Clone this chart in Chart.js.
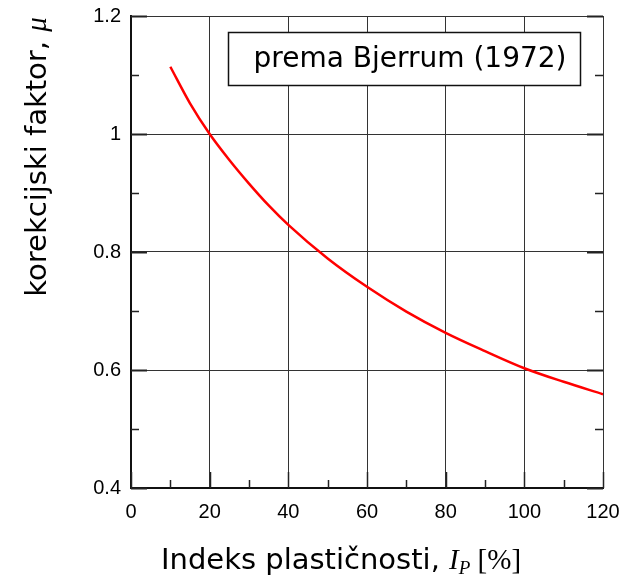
<!DOCTYPE html>
<html>
<head>
<meta charset="utf-8">
<script src="https://cdn.jsdelivr.net/npm/chart.js@4"></script>
<style>
  html, body { margin: 0; padding: 0; background: #fff; }
  #wrap { width: 631px; height: 577px; }
</style>
</head>
<body>
<div id="wrap"><canvas id="chart" width="631" height="577"></canvas></div>
<script>
// plasticity index Ip [%] and correction factor mu (Bjerrum 1972)
const plasticityIndex = [10, 15, 20, 25, 30, 35, 40, 50, 60, 70, 80, 90, 100, 110, 120];
const correctionFactor = [1.114, 1.052, 1.0, 0.956, 0.916, 0.879, 0.846, 0.789, 0.741, 0.699, 0.663, 0.632, 0.603, 0.580, 0.559];

const xTicks = [0, 20, 40, 60, 80, 100, 120];
const xMinor = [10, 30, 50, 70, 90, 110];
const yTicks = [0.4, 0.6, 0.8, 1.0, 1.2];
const yMinor = [0.5, 0.7, 0.9, 1.1];

const legendText = "prema Bjerrum (1972)";

const points = plasticityIndex.map((x, i) => ({ x: x, y: correctionFactor[i] }));

// ticks inside the frame, legend box and the axis titles with italic symbols
const extras = {
    id: "extras",
    afterDatasetsDraw(chart) {
        const ctx = chart.ctx;
        const a = chart.chartArea;
        const xs = chart.scales.x, ys = chart.scales.y;
        ctx.save();
        ctx.strokeStyle = "#222";

        xTicks.forEach(v => {
            const px = Math.round(xs.getPixelForValue(v)) + 0.5;
            ctx.lineWidth = 1.5;
            ctx.beginPath();
            ctx.moveTo(px, a.bottom); ctx.lineTo(px, a.bottom - 16);
            ctx.stroke();
        });
        xMinor.forEach(v => {
            const px = Math.round(xs.getPixelForValue(v)) + 0.5;
            ctx.lineWidth = 1.5;
            ctx.beginPath();
            ctx.moveTo(px, a.bottom); ctx.lineTo(px, a.bottom - 8);
            ctx.stroke();
        });
        yTicks.forEach(v => {
            const py = Math.round(ys.getPixelForValue(v)) + 0.5;
            ctx.lineWidth = 2;
            ctx.beginPath();
            ctx.moveTo(a.left, py); ctx.lineTo(a.left + 16, py);
            ctx.moveTo(a.right, py); ctx.lineTo(a.right - 16, py);
            ctx.stroke();
        });
        yMinor.forEach(v => {
            const py = Math.round(ys.getPixelForValue(v)) + 0.5;
            ctx.lineWidth = 1.5;
            ctx.beginPath();
            ctx.moveTo(a.left, py); ctx.lineTo(a.left + 8, py);
            ctx.moveTo(a.right, py); ctx.lineTo(a.right - 8, py);
            ctx.stroke();
        });

        // legend box
        ctx.fillStyle = "#fff";
        ctx.fillRect(228.5, 32.5, 352, 53);
        ctx.lineWidth = 1.5;
        ctx.strokeStyle = "#111";
        ctx.strokeRect(228.5, 32.5, 352, 53);
        ctx.fillStyle = "#000";
        ctx.font = "28px 'DejaVu Sans'";
        ctx.textAlign = "center";
        ctx.textBaseline = "alphabetic";
        ctx.fillText(legendText, 410, 67);

        // x axis title
        ctx.textAlign = "left";
        const sans = "29px 'DejaVu Sans'";
        const ital = "italic 29px 'Liberation Serif'";
        const sub = "italic 19px 'Liberation Serif'";
        const serif = "29px 'Liberation Serif'";
        const parts = [
            ["Indeks plastičnosti, ", sans, 0],
            ["I", ital, 0],
            ["P", sub, 5],
            [" [%]", serif, 0]
        ];
        let total = 0;
        parts.forEach(p => { ctx.font = p[1]; total += ctx.measureText(p[0]).width; });
        let x = 341 - total / 2;
        parts.forEach(p => {
            ctx.font = p[1];
            ctx.fillText(p[0], x, 569 + p[2]);
            x += ctx.measureText(p[0]).width;
        });

        // y axis title
        ctx.translate(46, 157);
        ctx.rotate(-Math.PI / 2);
        const yparts = [
            ["korekcijski faktor, ", "29px 'DejaVu Sans'"],
            ["\u03bc", "italic 29px 'Liberation Serif'"]
        ];
        total = 0;
        yparts.forEach(p => { ctx.font = p[1]; total += ctx.measureText(p[0]).width; });
        x = -total / 2;
        yparts.forEach(p => {
            ctx.font = p[1];
            ctx.fillText(p[0], x, 0);
            x += ctx.measureText(p[0]).width;
        });
        ctx.restore();
    }
};

new Chart(document.getElementById("chart"), {
    type: "scatter",
    data: {
        datasets: [{
            data: points,
            showLine: true,
            borderColor: "#ff0000",
            borderWidth: 2.5,
            pointRadius: 0,
            cubicInterpolationMode: "monotone",
            fill: false
        }]
    },
    options: {
        responsive: false,
        animation: false,
        layout: { padding: { left: 0, top: 16, right: 28, bottom: 0 } },
        plugins: { legend: { display: false }, tooltip: { enabled: false } },
        scales: {
            x: {
                type: "linear",
                min: 0, max: 120,
                afterBuildTicks: s => { s.ticks = xTicks.map(v => ({ value: v })); },
                afterFit: s => { s.height = 89; s.paddingLeft = 0; s.paddingRight = 0; },
                grid: { color: "#333", lineWidth: 1, drawTicks: false },
                border: { color: "#111", width: 2 },
                ticks: {
                    padding: 12,
                    color: "#000",
                    font: { family: "'Liberation Sans'", size: 20 },
                    maxRotation: 0
                }
            },
            y: {
                type: "linear",
                min: 0.4, max: 1.2,
                afterBuildTicks: s => { s.ticks = yTicks.map(v => ({ value: v })); },
                afterFit: s => { s.width = 131; s.paddingTop = 0; s.paddingBottom = 0; },
                grid: { color: "#333", lineWidth: 1, drawTicks: false },
                border: { color: "#111", width: 2 },
                ticks: {
                    padding: 10,
                    color: "#000",
                    font: { family: "'Liberation Sans'", size: 20 },
                    callback: v => (Math.abs(v - 1) < 1e-9 ? "1" : String(Math.round(v * 10) / 10))
                }
            }
        }
    },
    plugins: [extras]
});
</script>
</body>
</html>
